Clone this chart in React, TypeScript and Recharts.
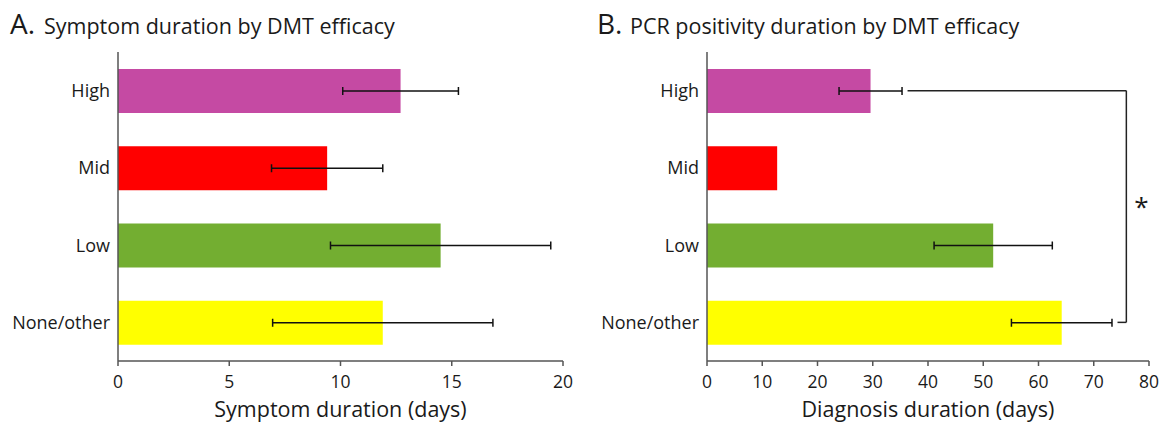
import React from 'react';
import {
  BarChart,
  Bar,
  Cell,
  XAxis,
  YAxis,
  ErrorBar,
  ReferenceLine,
} from 'recharts';

const groups = ['High', 'Mid', 'Low', 'None/other'];
const groupColors = ['#c54aa3', '#ff0000', '#73ae31', '#ffff00'];

// A. symptom duration (days), mean and error
const symptomMean = [12.7, 9.4, 14.5, 11.9];
const symptomErr = [2.6, 2.5, 4.95, 4.95];
const symptomTicks = [0, 5, 10, 15, 20];

// B. PCR positivity duration (days), mean and error (no bar for Mid)
const pcrMean = [29.6, 12.7, 51.8, 64.2];
const pcrErr: (number | null)[] = [5.7, null, 10.7, 9.1];
const pcrTicks = [0, 10, 20, 30, 40, 50, 60, 70, 80];

// significance bracket between High and None/other in panel B
const bracketStart = 36.3;
const bracketEdge = 75.9;
const bracketBottomStart = 74.3;

const FONT = '"Open Sans", "Noto Sans", sans-serif';
const TEXT = '#1a1a1a';
const AXIS = '#555555';

const symptomData = groups.map((name, i) => ({ name, value: symptomMean[i], err: symptomErr[i] }));
const pcrData = groups.map((name, i) => ({ name, value: pcrMean[i], err: pcrErr[i] }));

interface PanelProps {
  data: { name: string; value: number; err: number | null }[];
  ticks: number[];
  xLabel: string;
  yWidth: number;
  rightMargin: number;
  children?: React.ReactNode;
}

const Panel: React.FC<PanelProps> = ({ data, ticks, xLabel, yWidth, rightMargin, children }) => (
  <BarChart
    width={580}
    height={424}
    data={data}
    layout="vertical"
    margin={{ top: 52, right: rightMargin, left: 0, bottom: 0 }}
    barSize={44}
  >
    <XAxis
      type="number"
      domain={[ticks[0], ticks[ticks.length - 1]]}
      ticks={ticks}
      interval={0}
      height={63}
      tickSize={5}
      tickMargin={10}
      axisLine={{ stroke: AXIS, strokeWidth: 1.5 }}
      tickLine={{ stroke: AXIS, strokeWidth: 1.5 }}
      tick={{ fill: TEXT, fontSize: 17.5, fontFamily: FONT }}
      label={{ value: xLabel, position: 'insideBottom', offset: 7, fill: TEXT, fontSize: 21.5, fontFamily: FONT }}
    />
    <YAxis
      type="category"
      dataKey="name"
      width={yWidth}
      tickLine={false}
      tickSize={0}
      tickMargin={8}
      axisLine={{ stroke: AXIS, strokeWidth: 1.5 }}
      tick={{ fill: TEXT, fontSize: 18, fontFamily: FONT }}
    />
    <Bar dataKey="value" isAnimationActive={false}>
      {data.map((d, i) => (
        <Cell key={d.name} fill={groupColors[i]} />
      ))}
      <ErrorBar dataKey="err" direction="x" width={4} stroke="#111" strokeWidth={1.5} isAnimationActive={false} />
    </Bar>
    {children}
  </BarChart>
);

export default function App() {
  const lineStyle = { stroke: '#222', strokeWidth: 1.5 };
  return (
    <div style={{ position: 'absolute', left: 0, top: 0, width: 1160, height: 424, background: '#fff' }}>
      <svg width={1160} height={50} style={{ position: 'absolute', left: 0, top: 0 }}>
        <text x={10} y={34} fontSize={28} fontFamily={FONT} fill={TEXT}>A.</text>
        <text x={44} y={34} fontSize={21.5} fontFamily={FONT} fill={TEXT}>Symptom duration by DMT efficacy</text>
        <text x={597} y={34} fontSize={28} fontFamily={FONT} fill={TEXT}>B.</text>
        <text x={630} y={34} fontSize={21.5} fontFamily={FONT} fill={TEXT}>PCR positivity duration by DMT efficacy</text>
      </svg>
      <div style={{ position: 'absolute', left: 0, top: 0 }}>
        <Panel data={symptomData} ticks={symptomTicks} xLabel="Symptom duration (days)" yWidth={118} rightMargin={17} />
      </div>
      <div style={{ position: 'absolute', left: 580, top: 0 }}>
        <Panel data={pcrData} ticks={pcrTicks} xLabel="Diagnosis duration (days)" yWidth={127} rightMargin={11}>
          <ReferenceLine
            segment={[{ x: bracketStart, y: groups[0] }, { x: bracketEdge, y: groups[0] }]}
            {...lineStyle}
            ifOverflow="visible"
          />
          <ReferenceLine
            segment={[{ x: bracketEdge, y: groups[0] }, { x: bracketEdge, y: groups[3] }]}
            {...lineStyle}
            ifOverflow="visible"
            label={{ value: '*', position: 'right', offset: 8, fill: TEXT, fontSize: 26, fontFamily: FONT }}
          />
          <ReferenceLine
            segment={[{ x: bracketBottomStart, y: groups[3] }, { x: bracketEdge, y: groups[3] }]}
            {...lineStyle}
            ifOverflow="visible"
          />
        </Panel>
      </div>
    </div>
  );
}
